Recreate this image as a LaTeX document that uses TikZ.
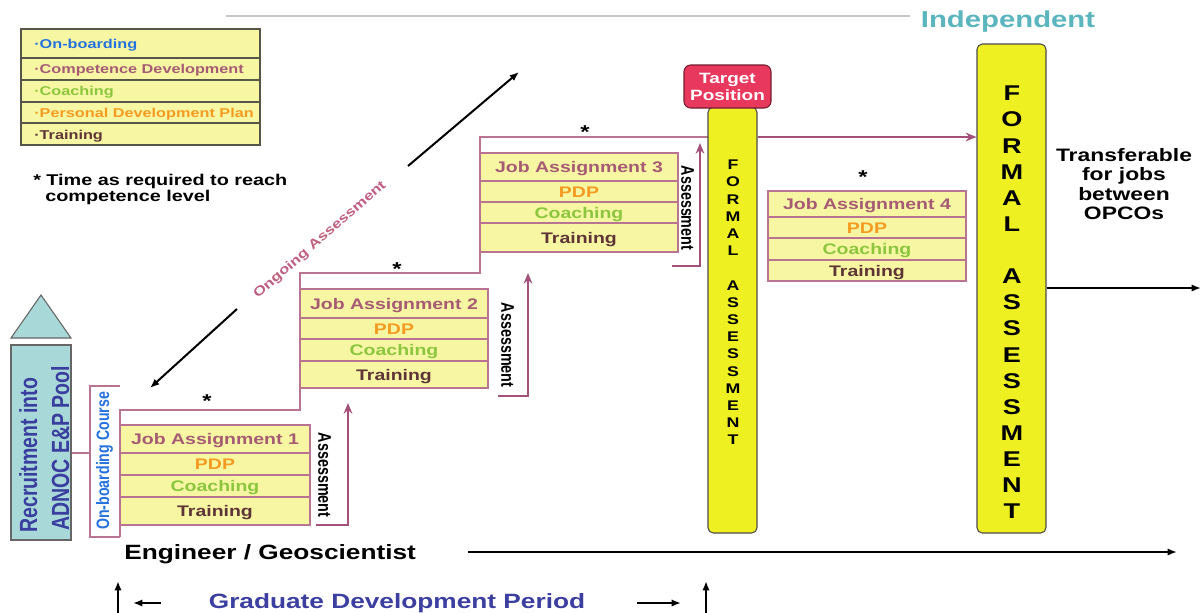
\documentclass[tikz,border=0pt]{standalone}
\usepackage{fontspec}
\setmainfont{Liberation Sans}[FakeStretch=1.27]
\newfontfamily\plainf{Liberation Sans}
\usepackage{graphicx}
\usetikzlibrary{arrows.meta}
\definecolor{boxy}{HTML}{F7F7A3}
\definecolor{boxpink}{HTML}{B87490}
\definecolor{titlepink}{HTML}{A65A74}
\definecolor{pdporange}{HTML}{F59B22}
\definecolor{coachgreen}{HTML}{8CC63E}
\definecolor{trainbrown}{HTML}{5E3436}
\definecolor{arrpink}{HTML}{A3507A}
\definecolor{faY}{HTML}{EEF022}
\definecolor{targetred}{HTML}{E8385E}
\definecolor{recteal}{HTML}{A8D8D8}
\definecolor{recblue}{HTML}{3A3E9E}
\definecolor{obblue}{HTML}{2471E0}
\definecolor{indteal}{HTML}{5BB5BF}
\definecolor{gdblue}{HTML}{3C3FA0}
\definecolor{ongpink}{HTML}{C0607E}
\definecolor{legborder}{HTML}{55554A}
\newcommand\jablock[8]{%
  \draw[rowbox] (#2,#4) rectangle (#3,#8);
  \draw[rowline] (#2,#5) -- (#3,#5) (#2,#6) -- (#3,#6) (#2,#7) -- (#3,#7);
  \path (#2,#4) -- (#3,#5) node[midway,ttl] (ja#1t) {Job Assignment #1};
  \path (#2,#5) -- (#3,#6) node[midway,pdp] (ja#1p) {PDP};
  \path (#2,#6) -- (#3,#7) node[midway,coach] (ja#1c) {Coaching};
  \path (#2,#7) -- (#3,#8) node[midway,train] (ja#1r) {Training};
}
\begin{document}
\begin{tikzpicture}[x=0.75pt,y=-0.75pt,
  rowbox/.style={draw=boxpink,fill=boxy,line width=0.9pt},
  rowline/.style={draw=boxpink,line width=0.9pt},
  jt/.style={inner sep=0pt,text height=8.25pt,text depth=0pt,font=\bfseries\fontsize{11.5}{13}\selectfont},
  ttl/.style={jt,text=titlepink},
  pdp/.style={jt,text=pdporange},
  coach/.style={jt,text=coachgreen},
  train/.style={jt,text=trainbrown},
  stair/.style={draw=boxpink,line width=1pt},
  asarrow/.style={draw=arrpink,line width=1.6pt,-{Stealth[length=8pt,width=6.5pt]}},
  blk/.style={draw=black,line width=1.5pt,-{Latex[length=7pt,width=5.5pt]}},
  asmt/.style={inner sep=0pt,rotate=-90,text height=9.8pt,text depth=0pt,font=\plainf\bfseries\fontsize{13.7}{14}\selectfont},
  legt/.style={inner sep=0pt,anchor=base west,font=\bfseries\fontsize{9.6}{11}\selectfont},
  star/.style={inner sep=0pt,font=\bfseries\fontsize{14}{14}\selectfont},
  fabar/.style={draw=black!70,fill=faY,rounded corners=4pt,line width=0.8pt,inner sep=0pt},
  blacktext/.style={inner sep=0pt,font=\bfseries\fontsize{11.7}{13}\selectfont},
]
\useasboundingbox (0,0) rectangle (1204,612);
\fill[white] (0,0) rectangle (1204,612);

% top rule
\coordinate (tl1) at (226,16);
\coordinate (tl2) at (910,16);
\draw[black!22,line width=0.8pt] (tl1) -- (tl2);

% legend
\draw[draw=legborder,fill=boxy,line width=1pt] (21,29) rectangle (260,145);
\draw[draw=legborder,line width=1pt] (21,58) -- (260,58) (21,80) -- (260,80) (21,102) -- (260,102) (21,123) -- (260,123);
\node[legt,text=obblue] (leg1) at (34,48.5) {·On-boarding};
\node[legt,text=titlepink] (leg2) at (34,73.5) {·Competence Development};
\node[legt,text=coachgreen] (leg3) at (34,95.5) {·Coaching};
\node[legt,text=pdporange] (leg4) at (34,117.5) {·Personal Development Plan};
\node[legt,text=trainbrown] (leg5) at (34,139.5) {·Training};
\node[blacktext,anchor=base west] (tm1) at (33,185.5) {* Time as required to reach};
\node[blacktext,anchor=base west] (tm2) at (45,201.5) {competence level};

% recruitment
\draw[draw=black!60,fill=recteal,line width=0.8pt] (11,338) -- (41,295) -- (71,338) -- cycle;
\node[draw=black!60,fill=recteal,line width=0.8pt,minimum width=45pt,minimum height=146.25pt,inner sep=0pt] (rec) at (41,442.5) {};
\node[rotate=90,anchor=base west,inner sep=0pt,text=recblue,font=\plainf\bfseries\fontsize{18.6}{20}\selectfont] (rec1) at (37,533) {\scalebox{0.787}[1]{Recruitment into}};
\node[rotate=90,anchor=base west,inner sep=0pt,text=recblue,font=\plainf\bfseries\fontsize{18.6}{20}\selectfont] (rec2) at (69,531) {\scalebox{0.787}[1]{ADNOC E\&P Pool}};

% on-boarding bracket
\coordinate (brk) at (90,453);
\draw[stair] (120,386) -- (90,386) -- (90,537) -- (120,537);
\draw[stair] (rec.east |- brk) -- (brk);
\node[rotate=90,anchor=base west,inner sep=0pt,text=obblue,font=\plainf\bfseries\fontsize{13.5}{14}\selectfont] (obc) at (109,530) {\scalebox{0.787}[1]{On-boarding Course}};

% staircase
\coordinate (y137) at (0,137);
\draw[stair] (120,537) -- (120,410) -- (300,410) -- (300,273) -- (480,273) -- (480,137) -- (708,137);

% job assignment blocks
\jablock{1}{120}{310}{425}{453}{475}{497}{525}
\jablock{2}{300}{488}{289}{318}{339}{361}{388}
\jablock{3}{480}{678}{153}{181}{202}{223}{252}
\jablock{4}{768}{966}{191}{217}{238}{260}{281}

% stars
\node[star] (st1) at (207,401) {*};
\node[star] (st2) at (397,269) {*};
\node[star] (st3) at (585,132) {*};
\node[star] (st4) at (863,177) {*};

% assessment labels and arrows
\node[asmt] (as1) at (325,475) {\scalebox{0.787}[1]{Assessment}};
\node[asmt] (as2) at (508,345) {\scalebox{0.787}[1]{Assessment}};
\node[asmt] (as3) at (688,208) {\scalebox{0.787}[1]{Assessment}};
\coordinate (a1s) at (316,525); \coordinate (a1e) at (348,403);
\coordinate (a2s) at (498,396); \coordinate (a2e) at (528,273);
\coordinate (a3s) at (672,266); \coordinate (a3e) at (700,143);
\draw[asarrow] (a1s) -| (a1e);
\draw[asarrow] (a2s) -| (a2e);
\draw[asarrow] (a3s) -| (a3e);

% formal assessment bars
\node[fabar,minimum width=36.75pt,minimum height=319.5pt] (fa1) at (732.5,320) {};
\node[font=\bfseries\fontsize{10.5}{12.9}\selectfont,align=center,inner sep=0pt] (fa1t) at (733,302.5)
  {F\\O\\R\\M\\A\\L\\[12.9pt]A\\S\\S\\E\\S\\S\\M\\E\\N\\T};
\node[draw=black!50!targetred,fill=targetred,rounded corners=5pt,line width=0.8pt,minimum width=65.25pt,minimum height=32.25pt,inner sep=0pt] (tgt) at (727.5,86.5) {};
\node[text=white,align=center,inner sep=0pt,font=\bfseries\fontsize{11.2}{12.75}\selectfont] (tgtx) at (tgt.center) {Target\\Position};

\node[fabar,minimum width=51.75pt,minimum height=366.75pt] (fa2) at (1011.5,288.5) {};
\node[font=\bfseries\fontsize{16}{19.6}\selectfont,align=center,inner sep=0pt] (fa2t) at (1012,302.5)
  {F\\O\\R\\M\\A\\L\\[19.6pt]A\\S\\S\\E\\S\\S\\M\\E\\N\\T};

\draw[asarrow] (fa1.east |- y137) -- (fa2.west |- y137);

% independent and transfer
\node[text=indteal,inner sep=0pt,font=\bfseries\fontsize{17.3}{18}\selectfont] (ind) at (1008,22) {Independent};
\node[align=center,inner sep=0pt,font=\bfseries\fontsize{13.5}{14.6}\selectfont] (trf) at (1124,184) {Transferable\\for jobs\\between\\OPCOs};
\coordinate (yT) at (0,288);
\coordinate (tend) at (1201,288);
\draw[blk] (fa2.east |- yT) -- (tend);

% ongoing assessment
\coordinate (og1) at (408,166); \coordinate (og2) at (519,72);
\coordinate (og3) at (237,309); \coordinate (og4) at (150,388);
\draw[blk] (og1) -- (og2);
\draw[blk] (og3) -- (og4);
\node[rotate=41,text=ongpink,inner sep=0pt,font=\bfseries\fontsize{9.8}{11}\selectfont] (ong) at (320,240) {Ongoing Assessment};

% bottom
\node[anchor=west,inner sep=0pt,text height=11pt,text depth=0pt,font=\bfseries\fontsize{15.5}{17}\selectfont] (eng) at (124,552) {Engineer / Geoscientist};
\coordinate (e1) at (468,552); \coordinate (e2) at (1177,552);
\draw[blk] (e1) -- (e2);
\node[text=gdblue,inner sep=0pt,text height=11pt,text depth=0pt,font=\bfseries\fontsize{15.5}{17}\selectfont] (gdp) at (397,601) {Graduate Development Period};
\coordinate (b1) at (118,613); \coordinate (b2) at (118,581);
\coordinate (b3) at (161,603); \coordinate (b4) at (133,603);
\coordinate (b5) at (637,603); \coordinate (b6) at (681,603);
\coordinate (b7) at (706,613); \coordinate (b8) at (706,581);
\draw[blk] (b1) -- (b2);
\draw[blk] (b3) -- (b4);
\draw[blk] (b5) -- (b6);
\draw[blk] (b7) -- (b8);
\end{tikzpicture}
\end{document}
